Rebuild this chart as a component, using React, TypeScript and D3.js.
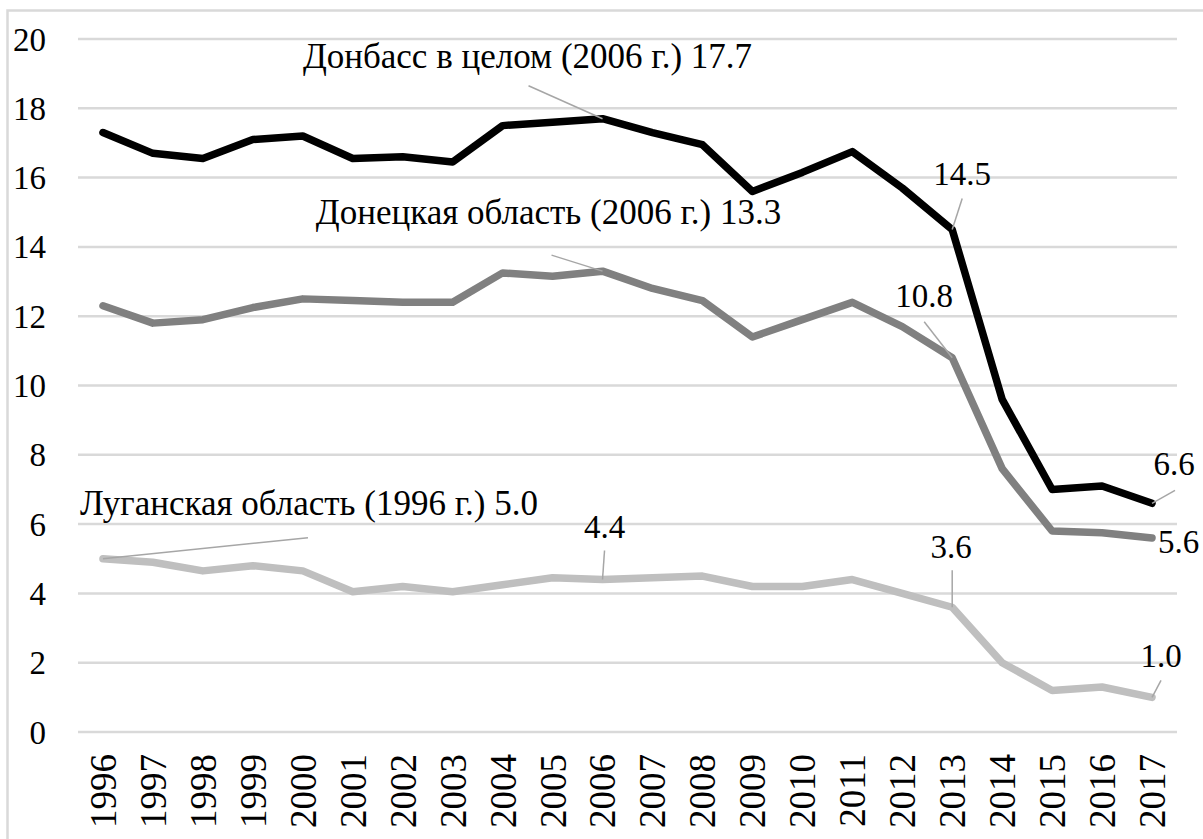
import * as d3 from "d3";

const years = [
  "1996", "1997", "1998", "1999", "2000", "2001", "2002", "2003", "2004", "2005", "2006",
  "2007", "2008", "2009", "2010", "2011", "2012", "2013", "2014", "2015", "2016", "2017",
];

const donbass = [
  17.3, 16.7, 16.55, 17.1, 17.2, 16.55, 16.6, 16.45, 17.5, 17.6, 17.7,
  17.3, 16.95, 15.6, 16.15, 16.75, 15.7, 14.5, 9.6, 7.0, 7.1, 6.6,
];

const donetsk = [
  12.3, 11.8, 11.9, 12.25, 12.5, 12.45, 12.4, 12.4, 13.25, 13.15, 13.3,
  12.8, 12.45, 11.4, 11.9, 12.4, 11.7, 10.8, 7.6, 5.8, 5.75, 5.6,
];

const lugansk = [
  5.0, 4.9, 4.65, 4.8, 4.65, 4.05, 4.2, 4.05, 4.25, 4.45, 4.4,
  4.45, 4.5, 4.2, 4.2, 4.4, 4.0, 3.6, 2.0, 1.2, 1.3, 1.0,
];

const yTicks = [0, 2, 4, 6, 8, 10, 12, 14, 16, 18, 20];

const seriesList = [
  { name: "Луганская область", values: lugansk, color: "#bfbfbf" },
  { name: "Донецкая область", values: donetsk, color: "#808080" },
  { name: "Донбасс в целом", values: donbass, color: "#000000" },
];

// подписи данных: индекс ряда в seriesList, год, текст
const labelSeries = [2, 1, 2, 1, 2, 1, 0, 0, 0, 0];
const labelYears = ["2006", "2006", "2013", "2013", "2017", "2017", "1996", "2006", "2013", "2017"];
const labelTexts = [
  "Донбасс в целом (2006 г.) 17.7",
  "Донецкая область (2006 г.) 13.3",
  "14.5",
  "10.8",
  "6.6",
  "5.6",
  "Луганская область (1996 г.) 5.0",
  "4.4",
  "3.6",
  "1.0",
];

// смещения подписей и выносок относительно точки
const labelLayout = [
  { dx: -75, dy: -63, anchor: "middle", lx: -74, ly: -33 },
  { dx: -54, dy: -59, anchor: "middle", lx: -51, ly: -16 },
  { dx: 10, dy: -56, anchor: "middle", lx: 10, ly: -31 },
  { dx: -28, dy: -62, anchor: "middle", lx: -28, ly: -36 },
  { dx: 22, dy: -40, anchor: "middle", lx: 23, ly: -13 },
  { dx: 6, dy: 3, anchor: "start", lx: 0, ly: 0 },
  { dx: 206, dy: -56, anchor: "middle", lx: 205, ly: -21 },
  { dx: 2, dy: -53, anchor: "middle", lx: 2, ly: -29 },
  { dx: -1, dy: -61, anchor: "middle", lx: 0, ly: -37 },
  { dx: 9, dy: -42, anchor: "middle", lx: 9, ly: -17 },
];

const FONT = "Liberation Serif";
const width = 1203;
const height = 839;
const margin = { top: 39, right: 26, bottom: 107, left: 78 };

export default function App() {
  const x = d3
    .scaleBand()
    .domain(years)
    .range([margin.left, width - margin.right]);

  const y = d3
    .scaleLinear()
    .domain([0, 20])
    .range([height - margin.bottom, margin.top]);

  const cx = (yr: string) => (x(yr) || 0) + x.bandwidth() / 2;

  const line = d3
    .line<number>()
    .x((_, i) => cx(years[i]))
    .y((d) => y(d));

  return (
    <svg width={width} height={height} style={{ position: "absolute", left: 0, top: 0 }}>
      <rect width={width} height={height} fill="#ffffff" />
      <rect
        x={7.5}
        y={10.5}
        width={width + 20}
        height={height + 20}
        fill="none"
        stroke="#d9d9d9"
        strokeWidth={2.5}
      />

      {yTicks.map((t) => (
        <line
          key={"g" + t}
          x1={margin.left}
          x2={width - margin.right}
          y1={y(t)}
          y2={y(t)}
          stroke="#d9d9d9"
          strokeWidth={2.5}
        />
      ))}

      {yTicks.map((t) => (
        <text
          key={"t" + t}
          x={46}
          y={y(t)}
          dy="0.35em"
          textAnchor="end"
          style={{ fontFamily: FONT, fontSize: 33 }}
          fill="#000"
        >
          {t}
        </text>
      ))}

      {years.map((yr) => (
        <text
          key={"x" + yr}
          transform={`translate(${cx(yr)},754) rotate(-90)`}
          dy="0.35em"
          textAnchor="end"
          style={{ fontFamily: FONT, fontSize: 37 }}
          fill="#000"
        >
          {yr}
        </text>
      ))}

      {seriesList.map((s) => (
        <path
          key={s.name}
          d={line(s.values) || ""}
          fill="none"
          stroke={s.color}
          strokeWidth={7.5}
          strokeLinejoin="round"
          strokeLinecap="round"
        />
      ))}

      {labelTexts.map((txt, i) => {
        const s = seriesList[labelSeries[i]];
        const idx = years.indexOf(labelYears[i]);
        const px = cx(labelYears[i]);
        const py = y(s.values[idx]);
        const l = labelLayout[i];
        return (
          <g key={"l" + i}>
            {(l.lx !== 0 || l.ly !== 0) && (
              <line
                x1={px + l.lx}
                y1={py + l.ly}
                x2={px}
                y2={py}
                stroke="#a6a6a6"
                strokeWidth={1.5}
              />
            )}
            <text
              x={px + l.dx}
              y={py + l.dy}
              dy="0.35em"
              textAnchor={l.anchor}
              style={{ fontFamily: FONT, fontSize: txt.length > 5 ? 35 : 33 }}
              fill="#000"
            >
              {txt}
            </text>
          </g>
        );
      })}
    </svg>
  );
}
